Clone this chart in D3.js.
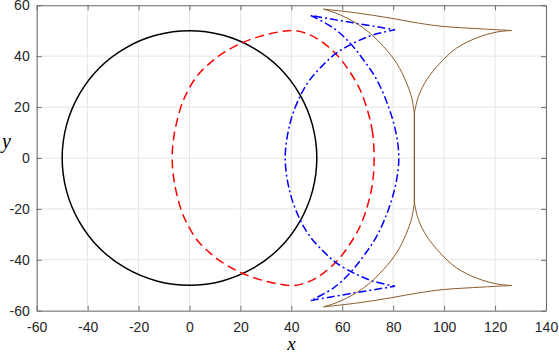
<!DOCTYPE html>
<html>
<head>
<meta charset="utf-8">
<script src="https://cdn.jsdelivr.net/npm/d3@7"></script>
<style>
  html, body { margin: 0; padding: 0; background: #fff; }
  svg { display: block; }
</style>
</head>
<body>
<script>
// ---- data ----
const xTicks = [-60, -40, -20, 0, 20, 40, 60, 80, 100, 120, 140];
const yTicks = [-60, -40, -20, 0, 20, 40, 60];

// black solid: original circle
const circlePts = [
  [50,0],[48.3,12.9],[43.3,25],[35.4,35.4],[25,43.3],[12.9,48.3],[0,50],
  [-12.9,48.3],[-25,43.3],[-35.4,35.4],[-43.3,25],[-48.3,12.9],[-50,0],
  [-48.3,-12.9],[-43.3,-25],[-35.4,-35.4],[-25,-43.3],[-12.9,-48.3],[0,-50],
  [12.9,-48.3],[25,-43.3],[35.4,-35.4],[43.3,-25],[48.3,-12.9]
];

// red dashed
const redPts = [
  [72.5,0],[71.9,9.8],[70.2,17.7],[67,26.8],[62.4,34.7],[57.8,40.6],[52.6,45.2],
  [47.3,48.4],[41,50.1],[35.5,49.6],[27.7,47.8],[20.5,45.2],[13.3,41.3],[8,37.3],
  [2.8,32],[-1.1,25.5],[-3.3,20.3],[-5.9,9.8],[-6.8,0],
  [-5.9,-9.8],[-3.3,-20.3],[-1.1,-25.5],[2.8,-32],[8,-37.3],[13.3,-41.3],[20.5,-45.2],
  [27.7,-47.8],[35.5,-49.6],[41,-50.1],[47.3,-48.4],[52.6,-45.2],[57.8,-40.6],
  [62.4,-34.7],[67,-26.8],[70.2,-17.7],[71.9,-9.8]
];

// blue dash-dot (pieces between cusps)
const blueOuter = [
  [47.6,56],[56.5,51.1],[63,45.2],[68.3,38.6],[73.5,30.8],[78.1,20.3],[81.1,9.8],[82.2,0],
  [81.1,-9.8],[78.1,-20.3],[73.5,-30.8],[68.3,-38.6],[63,-45.2],[56.5,-51.1],[47.6,-56]
];
const blueLowerEdge = [[47.6,-56],[64.3,-53.1],[80.7,-50.4]];
const blueInner = [
  [80.7,-50.4],[72.2,-48.4],[65.7,-45.8],[57.8,-41.3],[52.6,-36.7],[47.3,-30.8],
  [43.4,-24.2],[39.5,-13.7],[37.6,0],[39.5,13.7],[43.4,24.2],[47.3,30.8],[52.6,36.7],
  [57.8,41.3],[65.7,45.8],[72.2,48.4],[80.7,50.4]
];
const blueUpperEdge = [[80.7,50.4],[64.3,53.1],[47.6,56]];

// brown thin (pieces between cusps)
const brownLeftUpper = [[52.6,58.5],[59.1,56.3],[68.3,51.1],[76.1,43.9],[81.5,37],[85,30],[87.2,24],[88.3,17.5]];
const brownStem = [[88.3,17.5],[88.3,-17.5]];
const brownLeftLower = [[88.3,-17.5],[87.2,-24],[85,-30],[81.5,-37],[76.1,-43.9],[68.3,-51.1],[59.1,-56.3],[52.6,-58.5]];
const brownLowerEdge = [[52.6,-58.5],[65.7,-57],[78.7,-55],[89.9,-53],[99.7,-51.7],[115.4,-50.7],[126.5,-50.1]];
const brownRightLower = [[126.5,-50.1],[120.7,-49.5],[112.8,-47.2],[104.9,-43.2],[98.4,-37.3],[93.2,-30.8],[89.9,-24.2],[88.3,-17.5]];
const brownStemUp = [[88.3,-17.5],[88.3,17.5]];
const brownRightUpper = [[88.3,17.5],[89.9,24.2],[93.2,30.8],[98.4,37.3],[104.9,43.2],[112.8,47.2],[120.7,49.5],[126.5,50.1]];
const brownUpperEdge = [[126.5,50.1],[115.4,50.7],[99.7,51.7],[89.9,53],[78.7,55],[65.7,57],[52.6,58.5]];

// ---- layout ----
const W = 559, H = 354;
const pL = 36.7, pR = 546, pT = 5.3, pB = 310.7;

const x = d3.scaleLinear().domain([-60, 140]).range([pL, pR]);
const y = d3.scaleLinear().domain([-60, 60]).range([pB, pT]);

const svg = d3.select("body").append("svg").attr("width", W).attr("height", H);

// grid
const grid = svg.append("g").attr("stroke", "#e6e6e6").attr("stroke-width", 1);
xTicks.forEach(t => grid.append("line")
  .attr("x1", x(t)).attr("x2", x(t))
  .attr("y1", pT).attr("y2", pB));
yTicks.forEach(t => grid.append("line")
  .attr("y1", y(t)).attr("y2", y(t))
  .attr("x1", pL).attr("x2", pR));

// curves
svg.append("clipPath").attr("id", "clip").append("rect")
  .attr("x", pL).attr("y", pT).attr("width", pR - pL).attr("height", pB - pT);
const plot = svg.append("g").attr("clip-path", "url(#clip)");

const smooth = d3.line().x(d => x(d[0])).y(d => y(d[1])).curve(d3.curveCatmullRom.alpha(0.5));
const smoothClosed = d3.line().x(d => x(d[0])).y(d => y(d[1])).curve(d3.curveCatmullRomClosed.alpha(0.5));
function joined(pieces) {
  return pieces.map((p, i) => {
    const s = smooth(p);
    return i === 0 ? s : "L" + s.slice(1);
  }).join("");
}

plot.append("path").attr("d", smoothClosed(circlePts))
  .attr("fill", "none").attr("stroke", "#000").attr("stroke-width", 1.5);

plot.append("path").attr("d", smoothClosed(redPts))
  .attr("fill", "none").attr("stroke", "#ff0000").attr("stroke-width", 1.5)
  .attr("stroke-dasharray", "9,5");

plot.append("path").attr("d", joined([blueOuter, blueLowerEdge, blueInner, blueUpperEdge]))
  .attr("fill", "none").attr("stroke", "#0000ff").attr("stroke-width", 1.5)
  .attr("stroke-dasharray", "8,3,2,3");

plot.append("path").attr("d", joined([brownLeftUpper, brownStem, brownLeftLower, brownLowerEdge,
    brownRightLower, brownStemUp, brownRightUpper, brownUpperEdge]))
  .attr("fill", "none").attr("stroke", "#8a5a2a").attr("stroke-width", 1);

// axes box
const axisColor = "#6e6e6e";
const fmt = d => String(d);
const xAxisB = d3.axisBottom(x).tickValues(xTicks).tickFormat(fmt).tickSize(-5).tickPadding(11).tickSizeOuter(0);
const xAxisT = d3.axisTop(x).tickValues(xTicks).tickSize(-5).tickFormat("").tickSizeOuter(0);
const yAxisL = d3.axisLeft(y).tickValues(yTicks).tickFormat(fmt).tickSize(-5).tickPadding(7).tickSizeOuter(0);
const yAxisR = d3.axisRight(y).tickValues(yTicks).tickSize(-5).tickFormat("").tickSizeOuter(0);

function style(g) {
  g.select(".domain").attr("stroke", axisColor);
  g.selectAll(".tick line").attr("stroke", axisColor);
  g.selectAll("text").attr("fill", "#262626")
    .style("font-family", "'Liberation Sans', Arial, Helvetica, sans-serif")
    .style("font-size", "14px");
}
svg.append("g").attr("transform", `translate(0,${pB})`).call(xAxisB).call(style);
svg.append("g").attr("transform", `translate(0,${pT})`).call(xAxisT).call(style);
svg.append("g").attr("transform", `translate(${pL},0)`).call(yAxisL).call(style);
svg.append("g").attr("transform", `translate(${pR},0)`).call(yAxisR).call(style);

// axis labels
svg.append("text").attr("x", (pL + pR) / 2).attr("y", 350)
  .attr("text-anchor", "middle").attr("fill", "#000")
  .style("font-family", "'Liberation Serif', 'DejaVu Serif', serif")
  .style("font-style", "italic").style("font-size", "19px").text("x");
svg.append("text").attr("x", 6.5).attr("y", 148)
  .attr("text-anchor", "middle").attr("fill", "#000")
  .style("font-family", "'Liberation Serif', 'DejaVu Serif', serif")
  .style("font-style", "italic").style("font-size", "20px").text("y");
</script>
</body>
</html>
